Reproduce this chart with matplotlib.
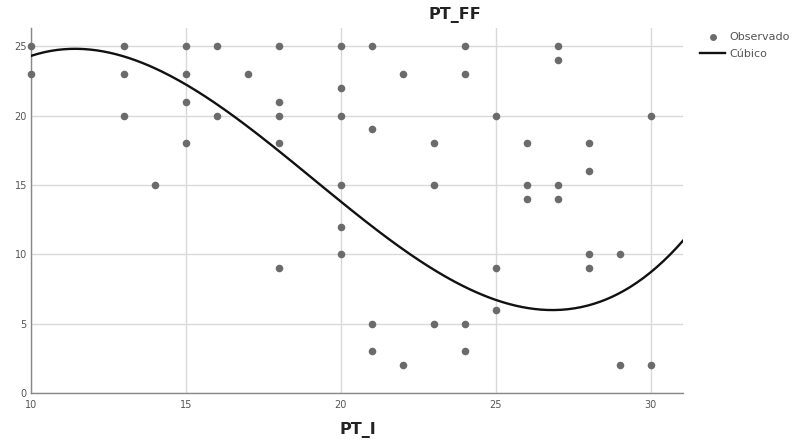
import numpy as np
import matplotlib.pyplot as plt
from matplotlib.lines import Line2D

pt_i = [10, 10,
        13, 13, 13,
        14,
        15, 15, 15, 15,
        16, 16,
        17,
        18, 18, 18, 18, 18,
        20, 20, 20, 20, 20, 20,
        21, 21, 21, 21,
        22, 22,
        23, 23, 23,
        24, 24, 24, 24,
        25, 25, 25,
        26, 26, 26,
        27, 27, 27, 27,
        28, 28, 28, 28,
        29, 29,
        30, 30]
pt_ff = [25, 23,
         25, 23, 20,
         15,
         25, 23, 21, 18,
         25, 20,
         23,
         25, 21, 20, 18, 9,
         25, 22, 20, 15, 12, 10,
         25, 19, 5, 3,
         23, 2,
         18, 15, 5,
         25, 23, 5, 3,
         20, 9, 6,
         18, 15, 14,
         25, 24, 15, 14,
         18, 16, 10, 9,
         10, 2,
         20, 2]

x_ticks = [10, 15, 20, 25, 30]
y_ticks = [0, 5, 10, 15, 20, 25]

# cubic curve, in powers of (PT_I - 20): t^3, t^2, t, 1
cubic_center = 20
cubic_coef = [0.0103, 0.027, -1.81, 13.8]

xs = np.linspace(10, 31.05, 300)
ys = np.polyval(cubic_coef, xs - cubic_center)

fig = plt.figure(figsize=(7.99, 4.47), dpi=100)
ax = fig.add_axes([0.0388, 0.1208, 0.8162, 0.8162])

ax.grid(True, color='#d9d9d9', linewidth=1.0)
ax.set_axisbelow(True)
ax.scatter(pt_i, pt_ff, s=30, color='#6b6b6b', linewidths=0, zorder=3, clip_on=False)
ax.plot(xs, ys, color='#111111', linewidth=1.7, zorder=4)

ax.set_xlim(10, 31.05)
ax.set_ylim(0, 26.3)
ax.set_xticks(x_ticks)
ax.set_yticks(y_ticks)
ax.tick_params(length=0, labelsize=7, colors='#555555', pad=3)
ax.tick_params(axis='x', pad=5)
for s in ['top', 'right']:
    ax.spines[s].set_visible(False)
for s in ['left', 'bottom']:
    ax.spines[s].set_color('#888888')
    ax.spines[s].set_linewidth(1.0)

fig.text(455 / 799, 1 - 15 / 447, 'PT_FF', ha='center', va='center',
         fontsize=11.5, fontweight='bold', color='#222222')
fig.text(358 / 799, 1 - 430 / 447, 'PT_I', ha='center', va='center',
         fontsize=11.5, fontweight='bold', color='#222222')

handles = [Line2D([], [], marker='o', linestyle='none', markersize=5,
                  markerfacecolor='#6b6b6b', markeredgewidth=0),
           Line2D([], [], color='#111111', linewidth=1.7)]
fig.legend(handles, ['Observado', 'Cúbico'], loc='upper left',
           bbox_to_anchor=(696 / 799, 1 - 28 / 447), frameon=False,
           fontsize=8, handlelength=2.2, handletextpad=0.4,
           labelspacing=0.55, labelcolor='#555555', borderaxespad=0)

fig.savefig('out.png', dpi=100)
